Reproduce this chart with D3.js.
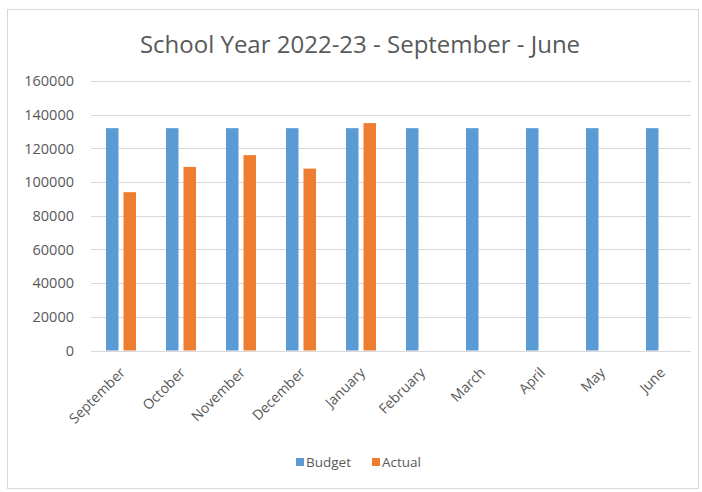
<!DOCTYPE html>
<html>
<head>
<meta charset="utf-8">
<script src="https://cdn.jsdelivr.net/npm/d3@7"></script>
<style>
  html, body { margin: 0; padding: 0; background: #fff; }
  svg { display: block; }
  text { font-family: "Open Sans", "Lato", sans-serif; fill: #595959; }
</style>
</head>
<body>
<svg id="chart" width="702" height="492"></svg>
<script>
const months = ["September","October","November","December","January","February","March","April","May","June"];
const budget = [132000,132000,132000,132000,132000,132000,132000,132000,132000,132000];
const actual = [94000,109000,116000,108000,135000,null,null,null,null,null];
const yTicks = [0,20000,40000,60000,80000,100000,120000,140000,160000];
const seriesNames = ["Budget","Actual"];
const colors = ["#5B9BD5","#ED7D31"];
const title = "School Year 2022-23 - September - June";

const svg = d3.select("#chart");
const plot = {left: 91, right: 691, top: 81, bottom: 350.5};

svg.append("rect").attr("x", 7.5).attr("y", 9.5).attr("width", 691).attr("height", 479)
  .attr("fill", "#fff").attr("stroke", "#d9d9d9").attr("stroke-width", 1);

svg.append("text").attr("x", 360).attr("y", 53).attr("text-anchor", "middle")
  .attr("font-size", 24).text(title);

const x = d3.scaleBand().domain(months).range([plot.left, plot.right]).padding(0);
const y = d3.scaleLinear().domain([0,160000]).range([plot.bottom, plot.top]);

// gridlines
svg.append("g").selectAll("line").data(yTicks).join("line")
  .attr("x1", plot.left).attr("x2", plot.right)
  .attr("y1", d => Math.round(y(d)) + 0.5).attr("y2", d => Math.round(y(d)) + 0.5)
  .attr("stroke", "#d9d9d9").attr("stroke-width", 1);

// y axis labels
const yAxis = d3.axisLeft(y).tickValues(yTicks).tickSize(0).tickPadding(0).tickFormat(d3.format("d"));
const gy = svg.append("g").attr("transform", `translate(${plot.left - 17},0)`).call(yAxis);
gy.select(".domain").remove();
gy.selectAll("text").attr("font-size", 14.5).attr("fill", "#595959")
  .style("font-family", '"Open Sans", sans-serif');

const bw = 12.5, gap = 5;
const groups = [budget, actual];
groups.forEach((vals, si) => {
  svg.append("g").selectAll("rect").data(months.map((m,i)=>({m, v: vals[i]})).filter(d => d.v != null))
    .join("rect")
    .attr("x", d => x(d.m) + x.bandwidth()/2 - (bw + gap/2) + si*(bw + gap))
    .attr("y", d => y(d.v))
    .attr("width", bw)
    .attr("height", d => y(0) - y(d.v))
    .attr("fill", colors[si]);
});

// x axis labels
const xAxis = d3.axisBottom(x).tickSize(0).tickPadding(0);
const gx = svg.append("g").attr("transform", `translate(0,${plot.bottom})`).call(xAxis);
gx.select(".domain").remove();
gx.selectAll("text")
  .attr("font-size", 14)
  .attr("text-anchor", "end")
  .attr("dy", null)
  .attr("transform", "translate(5,23) rotate(-45)")
  .style("font-family", '"Open Sans", sans-serif');

// legend
const legend = svg.append("g").attr("transform", "translate(0,462)");
const legItems = [{name: seriesNames[0], c: colors[0], x: 296}, {name: seriesNames[1], c: colors[1], x: 372}];
legItems.forEach(it => {
  legend.append("rect").attr("x", it.x).attr("y", -4).attr("width", 8).attr("height", 8).attr("fill", it.c);
  legend.append("text").attr("x", it.x + 10).attr("y", 5).attr("font-size", 13.5).text(it.name);
});
</script>
</body>
</html>
